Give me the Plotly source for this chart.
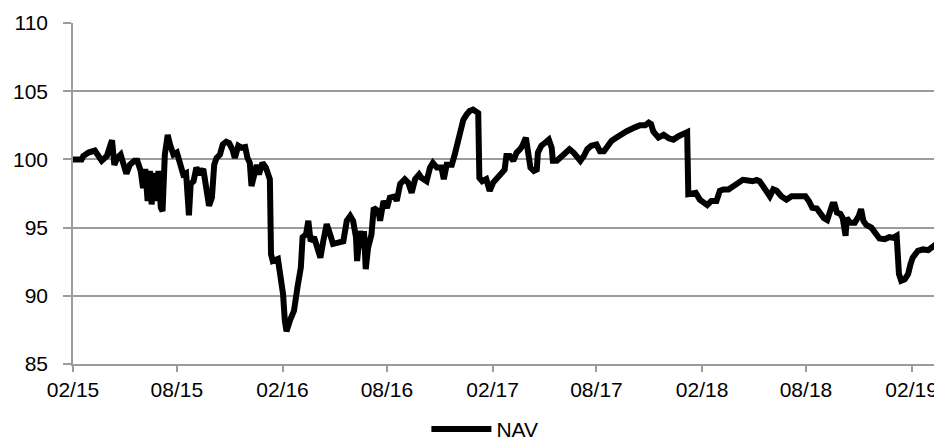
import plotly.graph_objects as go

dates = [
    "2015-02-01", "2015-02-16", "2015-02-19", "2015-02-28", "2015-03-11", "2015-03-17", "2015-03-23",
    "2015-04-01", "2015-04-10", "2015-04-14", "2015-04-19", "2015-04-25", "2015-04-30", "2015-05-05",
    "2015-05-11", "2015-05-19", "2015-05-24", "2015-05-30", "2015-06-03", "2015-06-07", "2015-06-11",
    "2015-06-15", "2015-06-18", "2015-06-22", "2015-06-26", "2015-06-30", "2015-07-04", "2015-07-07",
    "2015-07-11", "2015-07-16", "2015-07-20", "2015-07-26", "2015-08-01", "2015-08-06", "2015-08-12",
    "2015-08-17", "2015-08-22", "2015-08-25", "2015-08-30", "2015-09-04", "2015-09-10", "2015-09-16",
    "2015-09-21", "2015-09-26", "2015-10-01", "2015-10-05", "2015-10-09", "2015-10-15", "2015-10-20",
    "2015-10-26", "2015-10-31", "2015-11-06", "2015-11-10", "2015-11-16", "2015-11-22", "2015-11-28",
    "2015-12-02", "2015-12-06", "2015-12-09", "2015-12-13", "2015-12-18", "2015-12-22", "2015-12-28",
    "2016-01-03", "2016-01-07", "2016-01-10", "2016-01-12", "2016-01-15", "2016-01-24", "2016-01-28",
    "2016-02-02", "2016-02-05", "2016-02-08", "2016-02-14", "2016-02-21", "2016-02-27", "2016-03-04",
    "2016-03-07", "2016-03-13", "2016-03-17", "2016-03-21", "2016-03-27", "2016-04-02", "2016-04-07",
    "2016-04-12", "2016-04-18", "2016-04-24", "2016-04-29", "2016-05-08", "2016-05-17", "2016-05-23",
    "2016-05-29", "2016-06-03", "2016-06-08", "2016-06-10", "2016-06-15", "2016-06-20", "2016-06-22",
    "2016-06-25", "2016-06-29", "2016-07-05", "2016-07-09", "2016-07-17", "2016-07-20", "2016-07-26",
    "2016-08-01", "2016-08-06", "2016-08-15", "2016-08-18", "2016-08-24", "2016-09-01", "2016-09-07",
    "2016-09-13", "2016-09-19", "2016-09-26", "2016-09-30", "2016-10-09", "2016-10-15", "2016-10-20",
    "2016-10-27", "2016-11-04", "2016-11-08", "2016-11-13", "2016-11-22", "2016-11-27", "2016-12-01",
    "2016-12-06", "2016-12-12", "2016-12-18", "2016-12-23", "2016-12-29", "2017-01-04", "2017-01-07",
    "2017-01-09", "2017-01-14", "2017-01-21", "2017-01-27", "2017-02-02", "2017-02-09", "2017-02-17",
    "2017-02-22", "2017-02-25", "2017-03-03", "2017-03-09", "2017-03-15", "2017-03-21", "2017-03-25",
    "2017-03-31", "2017-04-04", "2017-04-08", "2017-04-14", "2017-04-19", "2017-04-21", "2017-04-27",
    "2017-05-03", "2017-05-10", "2017-05-15", "2017-05-17", "2017-05-24", "2017-05-30", "2017-06-07",
    "2017-06-15", "2017-06-22", "2017-06-28", "2017-07-04", "2017-07-10", "2017-07-16", "2017-07-23",
    "2017-08-01", "2017-08-07", "2017-08-14", "2017-08-21", "2017-08-27", "2017-09-05", "2017-09-14",
    "2017-09-22", "2017-10-07", "2017-10-16", "2017-10-25", "2017-10-31", "2017-11-04", "2017-11-08",
    "2017-11-17", "2017-11-26", "2017-12-05", "2017-12-13", "2017-12-22", "2018-01-02", "2018-01-06",
    "2018-01-08", "2018-01-14", "2018-01-21", "2018-01-28", "2018-02-04", "2018-02-10", "2018-02-17",
    "2018-02-26", "2018-03-04", "2018-03-10", "2018-03-19", "2018-03-25", "2018-04-02", "2018-04-08",
    "2018-04-13", "2018-04-22", "2018-04-30", "2018-05-07", "2018-05-12", "2018-05-18", "2018-05-24",
    "2018-05-30", "2018-06-05", "2018-06-11", "2018-06-19", "2018-06-28", "2018-07-07", "2018-07-15",
    "2018-07-24", "2018-07-31", "2018-08-06", "2018-08-12", "2018-08-20", "2018-08-26", "2018-09-01",
    "2018-09-07", "2018-09-11", "2018-09-16", "2018-09-20", "2018-09-24", "2018-09-30", "2018-10-04",
    "2018-10-09", "2018-10-11", "2018-10-17", "2018-10-25", "2018-11-01", "2018-11-05", "2018-11-09",
    "2018-11-14", "2018-11-23", "2018-11-29", "2018-12-07", "2018-12-16", "2018-12-24", "2018-12-31",
    "2019-01-06", "2019-01-10", "2019-01-14", "2019-01-20", "2019-01-26", "2019-01-30", "2019-02-03",
    "2019-02-12", "2019-02-21", "2019-03-02", "2019-03-10", "2019-03-16", "2019-03-22",
]

nav = [
    100.0, 100.0, 100.25, 100.5, 100.65, 100.35, 99.9,
    100.25, 101.4, 99.6, 100.1, 100.35, 99.6, 98.95,
    99.6, 99.9, 99.9, 99.15, 97.9, 99.3, 96.95,
    99.15, 96.7, 99.0, 96.95, 99.15, 96.45, 96.2,
    100.35, 101.8, 101.1, 100.35, 100.5, 99.6, 98.9,
    99.0, 95.9, 98.2, 98.4, 99.4, 98.9, 99.3,
    97.7, 96.6, 97.2, 99.6, 100.1, 100.35, 101.1,
    101.3, 101.2, 100.7, 100.1, 101.0, 100.85, 100.9,
    100.1, 99.75, 98.05, 98.9, 99.6, 98.9, 99.75,
    99.4, 98.9, 98.55, 93.05, 92.55, 92.7, 91.7,
    90.1, 88.2, 87.4, 88.2, 88.9, 90.6, 92.1,
    94.3, 94.5, 95.5, 94.0, 94.3, 93.4, 92.8,
    94.0, 95.25, 94.5, 93.8, 93.9, 94.0, 95.5,
    95.85, 95.5, 94.3, 92.55, 94.75, 93.5, 94.75,
    91.95, 93.5, 94.5, 96.45, 96.2, 95.5, 96.95,
    96.45, 97.2, 97.3, 96.95, 98.2, 98.55, 98.3,
    97.55, 98.55, 98.9, 98.65, 98.4, 99.4, 99.75,
    99.4, 99.4, 98.55, 99.6, 99.6, 100.35, 101.1,
    102.1, 102.9, 103.3, 103.55, 103.65, 103.4, 103.4,
    98.65, 98.4, 98.55, 97.7, 98.3, 98.65, 98.9,
    99.25, 100.25, 100.25, 99.9, 100.5, 100.75, 101.0,
    101.6, 100.6, 99.4, 99.15, 99.25, 100.5, 101.0,
    101.2, 101.45, 100.85, 99.9, 99.9, 100.1, 100.5,
    100.75, 100.5, 100.25, 99.9, 100.25, 100.75, 101.0,
    101.1, 100.6, 100.6, 101.0, 101.35, 101.6, 101.85,
    102.05, 102.35, 102.5, 102.5, 102.7, 102.6, 102.05,
    101.6, 101.8, 101.55, 101.45, 101.7, 102.0, 102.0,
    97.45, 97.45, 97.55, 97.05, 96.8, 96.65, 96.95,
    96.95, 97.7, 97.8, 97.8, 97.95, 98.15, 98.4,
    98.5, 98.45, 98.4, 98.5, 98.4, 98.05, 97.7,
    97.3, 97.8, 97.7, 97.3, 97.05, 97.3, 97.3,
    97.4, 97.3, 96.95, 96.45, 96.4, 96.0, 95.7,
    95.55, 96.1, 96.7, 96.7, 96.1, 96.0, 95.7,
    94.4, 95.7, 95.35, 95.35, 95.85, 96.35, 95.5,
    95.2, 95.0, 94.65, 94.2, 94.15, 94.3, 94.25,
    94.4, 91.6, 91.1, 91.2, 91.6, 92.3, 92.8,
    93.3, 93.4, 93.35, 93.65, 93.8, 93.4,
]

tick_dates = ["2015-02-01", "2015-08-01", "2016-02-01", "2016-08-01", "2017-02-01",
              "2017-08-01", "2018-02-01", "2018-08-01", "2019-02-01"]
tick_labels = ["02/15", "08/15", "02/16", "08/16", "02/17", "08/17", "02/18", "08/18", "02/19"]
y_ticks = [85, 90, 95, 100, 105, 110]

FONT = "Liberation Sans, Arial, sans-serif"
GRID = "#9c9c9c"

fig = go.Figure()
fig.add_trace(go.Scatter(
    x=dates, y=nav, mode="lines", name="NAV",
    line=dict(color="#000000", width=6, shape="linear"),
))

# page body has an 8px margin, so the figure is sized to fit the 942x443 window
fig.update_layout(
    width=934, height=435,
    margin=dict(l=65, r=0, t=15, b=79, autoexpand=False),
    paper_bgcolor="white", plot_bgcolor="white",
    font=dict(family=FONT, size=21, color="#000000"),
    showlegend=True,
    legend=dict(orientation="h", x=0.474, xanchor="center", y=-0.192, yanchor="middle",
                font=dict(family=FONT, size=21, color="#000000"),
                bgcolor="rgba(0,0,0,0)", itemwidth=60),
)
fig.update_xaxes(
    type="date", range=["2015-02-01", "2019-03-26"], automargin=False,
    tickmode="array", tickvals=tick_dates, ticktext=tick_labels,
    showgrid=False, showline=True, linecolor=GRID, linewidth=1.5,
    ticks="outside", ticklen=6, tickcolor=GRID, tickwidth=1.5,
    tickfont=dict(family=FONT, size=21, color="#000000"),
    zeroline=False,
)
fig.update_yaxes(
    range=[85, 110], tickmode="array", tickvals=y_ticks, automargin=False,
    showgrid=True, gridcolor=GRID, gridwidth=1.5,
    showline=True, linecolor=GRID, linewidth=1.5,
    ticks="outside", ticklen=8, tickcolor=GRID, tickwidth=1.5, ticklabelstandoff=11,
    tickfont=dict(family=FONT, size=21, color="#000000"),
    zeroline=False,
)

fig.write_html("out.html")
